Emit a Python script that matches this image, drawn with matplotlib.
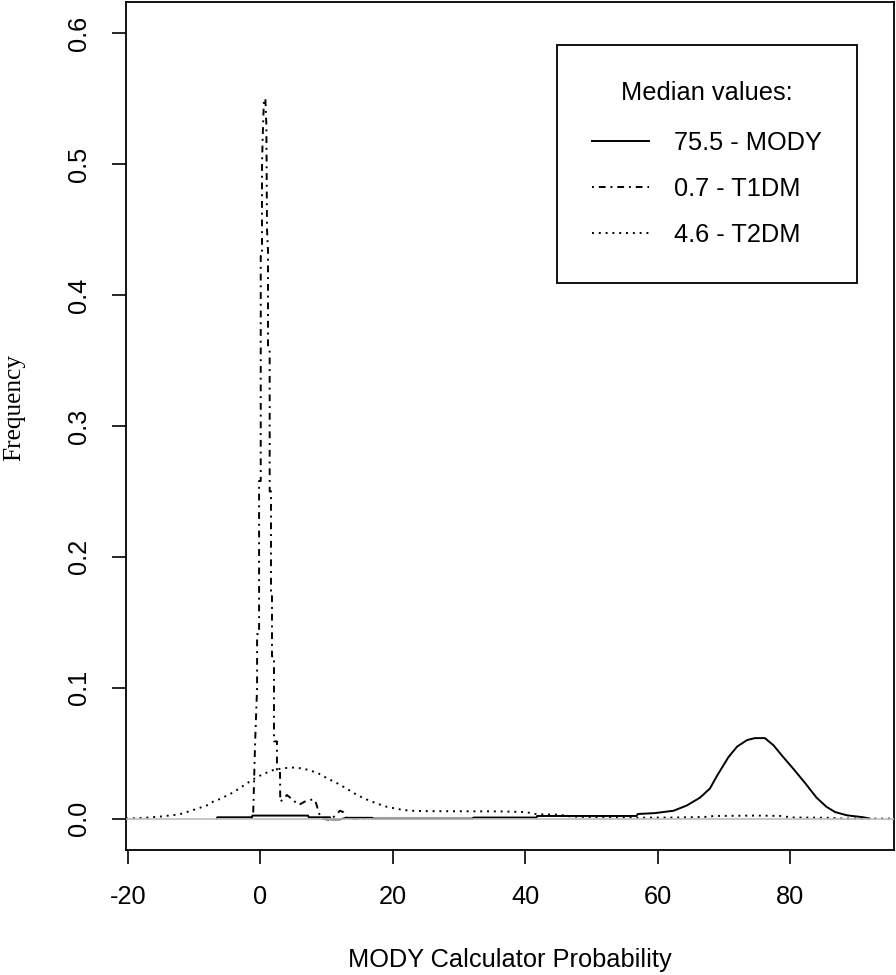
import numpy as np
import matplotlib
matplotlib.use("Agg")
import matplotlib.pyplot as plt

plt.rcParams['font.family'] = ['Liberation Sans', 'DejaVu Sans']
plt.rcParams['axes.unicode_minus'] = False

# density curves (x = MODY probability, y = density)
mody_x = [-6.6, -6.5, -1.3, -1.2, 7.2, 7.3, 10.5, 10.6, 12.0, 13.0, 16.9, 17.0,
          32.0, 32.2, 41.7, 41.8, 56.8, 57.0, 59.6, 62.4, 64.4, 66.4, 67.9, 69.0,
          70.7, 72.0, 73.5, 74.7, 76.2, 77.5, 78.8, 80.5, 82.3, 84.0, 85.5, 86.8,
          88.6, 91.1, 92.0]
mody_y = [0.0, 0.001, 0.001, 0.0023, 0.0023, 0.001, 0.001, -0.0006, -0.0006, 0.0006,
          0.0006, 0.0, 0.0, 0.0008, 0.0008, 0.002, 0.002, 0.0035, 0.0042, 0.006,
          0.010, 0.016, 0.023, 0.033, 0.047, 0.055, 0.060, 0.0615, 0.0615, 0.056,
          0.048, 0.038, 0.027, 0.016, 0.009, 0.005, 0.0025, 0.001, 0.0]

t1dm_x = [-1.4, -1.1, -0.8, -0.5, -0.5, -0.2, -0.2, 0.05, 0.05, 0.24, 0.24, 0.4,
          0.54, 0.75, 0.9, 1.0, 1.15, 1.15, 1.4, 1.4, 1.6, 1.6, 1.75, 1.75, 2.05,
          2.05, 2.5, 2.5, 2.96, 3.0, 3.5, 4.0, 4.5, 4.9, 5.5, 6.0, 6.7, 7.5, 7.95,
          8.4, 8.85, 9.3, 10.5, 11.5, 12.0, 12.5, 12.8, 13.5, 16.0]
t1dm_y = [0.0, 0.002, 0.058, 0.10, 0.141, 0.141, 0.258, 0.258, 0.43, 0.43, 0.50, 0.53,
          0.55, 0.55, 0.53, 0.45, 0.434, 0.36, 0.357, 0.25, 0.25, 0.17, 0.17, 0.124,
          0.124, 0.059, 0.059, 0.036, 0.036, 0.013, 0.015, 0.018, 0.016, 0.015, 0.011,
          0.011, 0.013, 0.014, 0.015, 0.012, 0.004, 0.0, -0.001, 0.003, 0.006, 0.005,
          0.001, 0.0, 0.0]

t2dm_x = [-20.3, -17.7, -15.2, -12.6, -11.7, -10.2, -8.1, -7.6, -6.1, -4.1, -2.6,
          -1.1, 0.4, 1.9, 3.4, 4.9, 6.0, 7.0, 8.6, 10.0, 11.6, 13.0, 14.6, 16.1,
          17.6, 19.1, 21.1, 22.6, 25.0, 36.0, 40.0, 41.8, 45.2, 47.0, 52.8, 57.0,
          62.0, 67.0, 68.5, 75.0, 78.9, 80.0, 86.0, 88.0, 95.7]
t2dm_y = [0.0, 0.0005, 0.0015, 0.003, 0.004, 0.0065, 0.010, 0.012, 0.015, 0.020,
          0.025, 0.030, 0.034, 0.037, 0.0385, 0.039, 0.0385, 0.0375, 0.035, 0.031,
          0.027, 0.023, 0.018, 0.0145, 0.0115, 0.009, 0.007, 0.006, 0.0057, 0.0055,
          0.005, 0.0033, 0.003, 0.0015, 0.001, 0.0007, 0.0008, 0.0012, 0.002, 0.0023,
          0.002, 0.0009, 0.0006, 0.0, 0.0]

labels = ["75.5 - MODY", "0.7 - T1DM", "4.6 - T2DM"]

fig = plt.figure(figsize=(8.96, 9.75), dpi=100)
ax = fig.add_axes([126 / 896, 125 / 975, 768 / 896, 848 / 975])

lw = 1.4
ax.plot(mody_x, mody_y, color='black', lw=lw, label=labels[0])
ax.plot(t1dm_x, t1dm_y, color='black', lw=lw, linestyle=(0, (1, 2.5, 3.5, 2.5)), label=labels[1])
ax.plot(t2dm_x, t2dm_y, color='black', lw=lw, linestyle=(0, (1, 2.5)), label=labels[2])
ax.axhline(0, color='#BEBEBE', lw=1.2, zorder=3)

ax.set_xlim(-20.3, 95.7)
ax.set_ylim(-0.024, 0.624)
ax.set_xticks([-20, 0, 20, 40, 60, 80])
ax.set_yticks([0.0, 0.1, 0.2, 0.3, 0.4, 0.5, 0.6])
ax.set_yticklabels(["0.0", "0.1", "0.2", "0.3", "0.4", "0.5", "0.6"],
                   rotation=90, va='center')
ax.tick_params(axis='both', length=10, width=1.2, labelsize=18.3, pad=15,
               colors='black')
for s in ax.spines.values():
    s.set_linewidth(1.3)

ax.set_xlabel("MODY Calculator Probability", fontsize=18.3, labelpad=28)
ax.set_ylabel("Frequency", fontsize=18.3, family=['Liberation Serif', 'DejaVu Serif'])
ax.yaxis.set_label_coords(-0.131, 0.522)

leg = ax.legend(title="Median values:", loc='upper right',
                bbox_to_anchor=(857 / 896, 930 / 975), bbox_transform=fig.transFigure,
                fontsize=18.3, title_fontsize=18.3, fancybox=False, edgecolor='black',
                framealpha=1, handlelength=2.24, handletextpad=0.95,
                labelspacing=0.87, borderpad=1.4, borderaxespad=0)
leg.get_frame().set_linewidth(1.3)
leg._legend_box.sep = 19

fig.savefig("out.png", dpi=100)
